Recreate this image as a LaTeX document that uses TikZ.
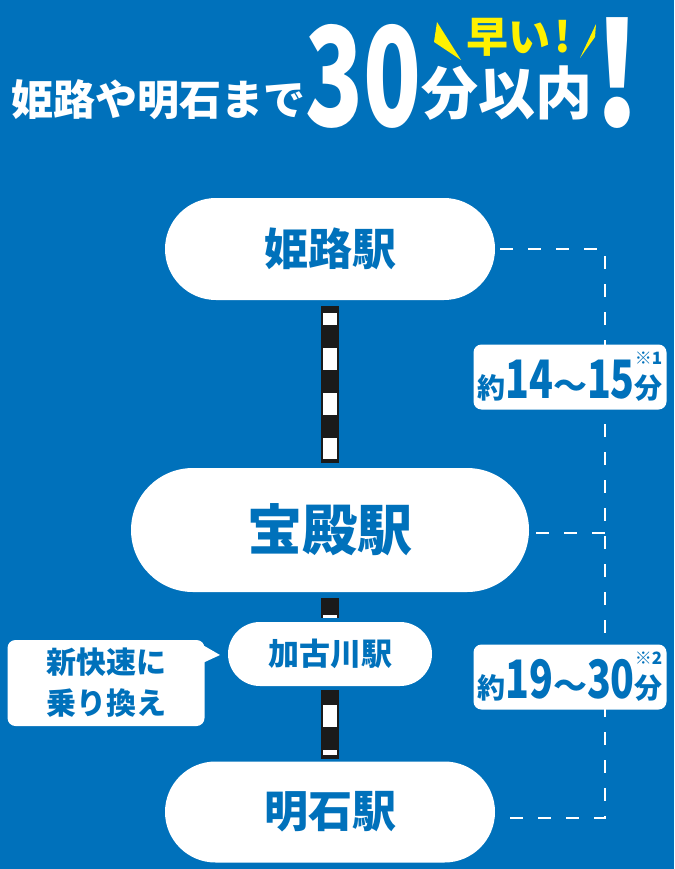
\documentclass[tikz,border=0pt]{standalone}
\usepackage{fontspec}
\setmainfont{Noto Sans CJK JP}
\usepackage{graphicx}
\usetikzlibrary{shapes.misc}

\definecolor{bgblue}{RGB}{0,113,187}
\definecolor{hiyellow}{RGB}{255,241,0}
\definecolor{railblack}{RGB}{26,26,26}

\newcommand{\jfs}[1]{\fontsize{#1}{#1}\selectfont}
\newcommand{\durtext}[3]{{\jfs{28}約}\scalebox{0.74}[1]{\jfs{53}#1}{\jfs{34}～}\scalebox{0.74}[1]{\jfs{53}#2}\makebox[0pt][l]{\raisebox{34pt}{\jfs{17}※#3}}{\jfs{28}分}}

\tikzset{
  station/.style={rounded rectangle,fill=white,text=bgblue,inner sep=0pt},
  rail/.style={line width=18pt,railblack},
  railgap/.style={line width=14pt,white,dash pattern=on 22pt off 23pt},
  leg/.style={white,line width=2pt,dash pattern=on 13pt off 15pt},
  timebox/.style={fill=white,rounded corners=8pt,minimum width=193pt,minimum height=65pt,inner sep=0pt,text=bgblue,font=\bfseries},
}

\begin{document}
\begin{tikzpicture}[x=1pt,y=-1pt]
\useasboundingbox (0,0) rectangle (674,869);
\fill [bgblue] (0,0) rectangle (674,869);

% headline
\node (title)   at ( 11,116) [anchor=base west,inner sep=0pt,text=white,font=\jfs{42}\bfseries] {姫路や明石まで};
\node (thirty)  at (305,127) [anchor=base west,inner sep=0pt,text=white,font=\bfseries] {\scalebox{0.69}[1]{\jfs{138}30}};
\node (minutes) at (421,115) [anchor=base west,inner sep=0pt,text=white,font=\jfs{57}\bfseries] {分以内};
\node (fast)    at (466, 53) [anchor=base west,inner sep=0pt,text=hiyellow,font=\jfs{42}\bfseries] {早い\kern4pt!};
\node (bang)    at (617,127) [anchor=base,inner sep=0pt,text=white,font=\bfseries] {\scalebox{0.85}[1]{\jfs{142}!}};
\fill [hiyellow] (437,22) -- (461,60) -- (434,42) -- cycle;
\fill [hiyellow] (596,24) -- (580,58) -- (595,37) -- cycle;

% stations
\node (hime)   at (330,249) [station,minimum width=330pt,minimum height=102pt,font=\jfs{44}\bfseries] {姫路駅};
\node (hoden)  at (330,530) [station,minimum width=398pt,minimum height=124pt,font=\jfs{55}\bfseries] {宝殿駅};
\node (kako)   at (330,654) [station,minimum width=204pt,minimum height=64pt,font=\jfs{31}\bfseries] {加古川駅};
\node (akashi) at (330,812) [station,minimum width=330pt,minimum height=101pt,font=\jfs{44}\bfseries] {明石駅};

% track
\draw [rail,shorten <=6pt,shorten >=5pt] (hime.south) -- (hoden.north);
\draw [railgap,shorten <=13pt,shorten >=9pt,dash phase=10pt] (hime.south) -- (hoden.north);
\draw [rail,shorten <=6pt,shorten >=4pt] (hoden.south) -- (kako.north);
\draw [railgap,shorten <=23pt,shorten >=4pt] (hoden.south) -- (kako.north);
\draw [rail,shorten <=4pt,shorten >=2pt] (kako.south) -- (akashi.north);
\draw [railgap,shorten <=19pt,shorten >=6pt] (kako.south) -- (akashi.north);

% travel time brackets
\coordinate (cornerTop) at (605,249);
\coordinate (cornerMid) at (605,533);
\coordinate (cornerBot) at (605,818);
\draw [leg,shorten <=5pt,shorten >=10pt] (hime.east) -- (cornerTop) -- (cornerBot) -- (akashi.east |- cornerBot);
\draw [leg,shorten <=7pt] (hoden.east |- cornerMid) -- (cornerMid);

\node (leg1) at (570,377) [timebox] {\durtext{14}{15}{1}};
\node (leg2) at (570,677) [timebox] {\durtext{19}{30}{2}};

% transfer note
\node (note) at (106,683) [fill=white,rounded corners=8pt,minimum width=197pt,minimum height=86pt,inner sep=0pt,text=bgblue,align=center,font=\fontsize{30}{41}\selectfont\bfseries] {新快速に\\乗り換え};
\coordinate (notetip) at (220,655);
\fill [white] ([shift={(-2,-38)}]note.east) -- (notetip) -- ([shift={(-2,-20)}]note.east) -- cycle;
\end{tikzpicture}
\end{document}
